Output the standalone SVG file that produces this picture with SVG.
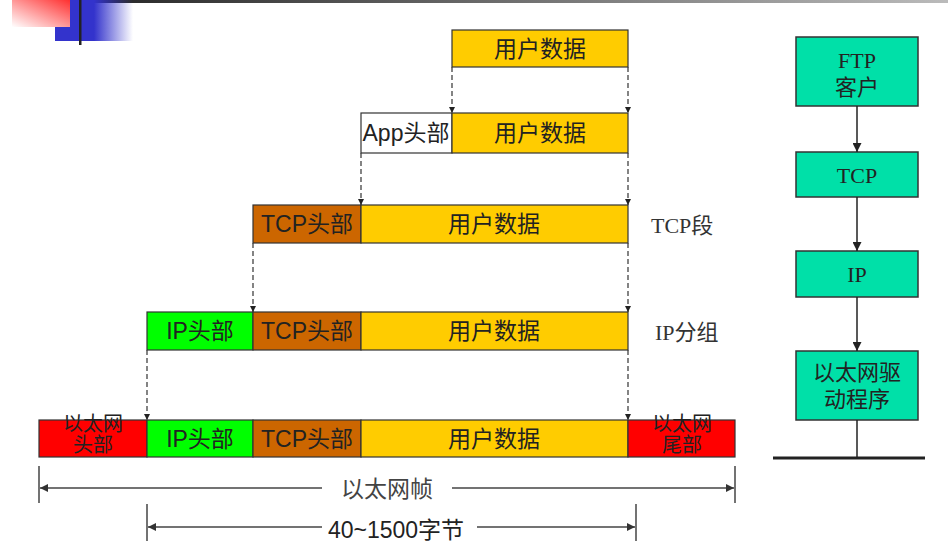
<svg xmlns="http://www.w3.org/2000/svg" width="948" height="547" viewBox="0 0 948 547">
<defs>
<linearGradient id="gRed" x1="1" y1="0" x2="0" y2="1">
<stop offset="0" stop-color="#ff3030"/>
<stop offset="1" stop-color="#ffffff"/>
</linearGradient>
<linearGradient id="gBlue" x1="0" y1="0" x2="1" y2="0">
<stop offset="0" stop-color="#3333cc"/>
<stop offset="0.5" stop-color="#3333cc"/>
<stop offset="1" stop-color="#3333cc" stop-opacity="0"/>
</linearGradient>
<linearGradient id="gBar" x1="0" y1="0" x2="1" y2="0">
<stop offset="0" stop-color="#222222"/>
<stop offset="1" stop-color="#bbbbbb"/>
</linearGradient>
<marker id="ah" viewBox="0 0 10 10" refX="10" refY="5" markerWidth="6" markerHeight="6" orient="auto" markerUnits="userSpaceOnUse">
<path d="M0,0 L10,5 L0,10 z" fill="#222"/>
</marker>
<marker id="ahd" viewBox="0 0 10 10" refX="10" refY="5" markerWidth="10" markerHeight="8" orient="auto-start-reverse" markerUnits="userSpaceOnUse">
<path d="M0,0 L10,5 L0,10 z" fill="#333"/>
</marker>
<marker id="ahs" viewBox="0 0 10 10" refX="10" refY="5" markerWidth="9" markerHeight="9" orient="auto" markerUnits="userSpaceOnUse">
<path d="M0,0 L10,5 L0,10 z" fill="#222"/>
</marker>
</defs>
<style>
.box{stroke:#333;stroke-width:1.2}
.y{fill:#ffcc00}.b{fill:#cc6600}.g{fill:#00ff00}.r{fill:#ff0000}.w{fill:#ffffff}
.t{fill:#00e0a8;stroke:#333;stroke-width:1.5}
.s{font-family:"Liberation Sans","Noto Sans CJK SC",sans-serif;font-size:23px;fill:#222;text-anchor:middle;dominant-baseline:central}
.sm{font-family:"Liberation Sans","Noto Sans CJK SC",sans-serif;font-size:20px;fill:#222;text-anchor:middle;dominant-baseline:central}
.sf{font-family:"Liberation Serif","Noto Sans CJK SC",serif;font-size:22px;fill:#222;text-anchor:middle;dominant-baseline:central}
.lbl{font-family:"Liberation Serif","Noto Sans CJK SC",serif;font-size:22px;fill:#333;dominant-baseline:central}
.dash{stroke:#333;stroke-width:1.2;stroke-dasharray:5,3;fill:none;marker-end:url(#ah)}
.sol{stroke:#222;stroke-width:1.5;fill:none}
.dim{stroke:#444;stroke-width:1.5;fill:none}
</style>
<g id="decor">
<rect x="70" y="0" width="878" height="3" fill="url(#gBar)"/>
<rect x="55" y="0" width="78" height="41" fill="url(#gBlue)"/>
<rect x="12" y="0" width="58" height="27" fill="url(#gRed)"/>
<rect x="79" y="0" width="2.5" height="45" fill="#222"/>
</g>
<g id="row1">
<rect class="box y" x="452" y="30" width="176" height="37"/>
<text class="s" x="540" y="49">用户数据</text>
</g>
<g id="row2">
<rect class="box w" x="361" y="113" width="91" height="40"/>
<text class="s" x="406" y="133">App头部</text>
<rect class="box y" x="452" y="113" width="176" height="40"/>
<text class="s" x="540" y="133">用户数据</text>
</g>
<g id="row3">
<rect class="box b" x="253" y="205" width="108" height="38"/>
<text class="s" x="307" y="224">TCP头部</text>
<rect class="box y" x="361" y="205" width="267" height="38"/>
<text class="s" x="494" y="224">用户数据</text>
<text class="lbl" x="651" y="225">TCP段</text>
</g>
<g id="row4">
<rect class="box g" x="147" y="312" width="106" height="38"/>
<text class="s" x="200" y="331">IP头部</text>
<rect class="box b" x="253" y="312" width="108" height="38"/>
<text class="s" x="307" y="331">TCP头部</text>
<rect class="box y" x="361" y="312" width="267" height="38"/>
<text class="s" x="494" y="331">用户数据</text>
<text class="lbl" x="655" y="332">IP分组</text>
</g>
<g id="row5">
<rect class="box r" x="39" y="420" width="108" height="37"/>
<text class="sm" x="93" y="424">以太网</text>
<text class="sm" x="93" y="445">头部</text>
<rect class="box g" x="147" y="420" width="106" height="37"/>
<text class="s" x="200" y="439">IP头部</text>
<rect class="box b" x="253" y="420" width="108" height="37"/>
<text class="s" x="307" y="439">TCP头部</text>
<rect class="box y" x="361" y="420" width="267" height="37"/>
<text class="s" x="494" y="439">用户数据</text>
<rect class="box r" x="628" y="420" width="107" height="37"/>
<text class="sm" x="682" y="424">以太网</text>
<text class="sm" x="682" y="445">尾部</text>
</g>
<g id="dimensions">
<line class="dim" x1="39" y1="466" x2="39" y2="503"/>
<line class="dim" x1="735" y1="466" x2="735" y2="503"/>
<line class="dim" x1="322" y1="488" x2="40" y2="488" marker-end="url(#ahd)"/>
<line class="dim" x1="452" y1="488" x2="734" y2="488" marker-end="url(#ahd)"/>
<text class="s" x="387" y="489" style="fill:#444">以太网帧</text>
<line class="dim" x1="147" y1="504" x2="147" y2="541"/>
<line class="dim" x1="636" y1="504" x2="636" y2="541"/>
<line class="dim" x1="322" y1="527" x2="148" y2="527" marker-end="url(#ahd)"/>
<line class="dim" x1="477" y1="527" x2="635" y2="527" marker-end="url(#ahd)"/>
<text class="s" x="396" y="530">40~1500字节</text>
</g>
<g id="stack">
<g id="ftp"><rect class="t" x="796" y="37" width="122" height="69"/>
<text class="sf" x="857" y="60">FTP</text><text class="sf" x="857" y="87">客户</text></g>
<g id="tcp"><rect class="t" x="796" y="152" width="122" height="45"/>
<text class="sf" x="857" y="175">TCP</text></g>
<g id="ip"><rect class="t" x="796" y="251" width="122" height="46"/>
<text class="sf" x="857" y="274">IP</text></g>
<g id="eth"><rect class="t" x="796" y="351" width="122" height="69"/>
<text class="sf" x="857" y="372">以太网驱</text><text class="sf" x="857" y="399">动程序</text></g>
</g>
<g id="connectors">
<line class="dash" x1="452" y1="67" x2="452" y2="113"/>
<line class="dash" x1="628" y1="67" x2="628" y2="113"/>
<line class="dash" x1="361" y1="153" x2="361" y2="205"/>
<line class="dash" x1="628" y1="153" x2="628" y2="205"/>
<line class="dash" x1="253" y1="243" x2="253" y2="312"/>
<line class="dash" x1="628" y1="243" x2="628" y2="312"/>
<line class="dash" x1="147" y1="350" x2="147" y2="420"/>
<line class="dash" x1="628" y1="350" x2="628" y2="420"/>
<line class="sol" x1="857" y1="106" x2="857" y2="152" marker-end="url(#ahs)"/>
<line class="sol" x1="857" y1="197" x2="857" y2="251" marker-end="url(#ahs)"/>
<line class="sol" x1="857" y1="297" x2="857" y2="351" marker-end="url(#ahs)"/>
<line class="sol" x1="857" y1="420" x2="857" y2="458"/>
<line x1="773" y1="458" x2="925" y2="458" stroke="#222" stroke-width="3"/>
</g>
</svg>
